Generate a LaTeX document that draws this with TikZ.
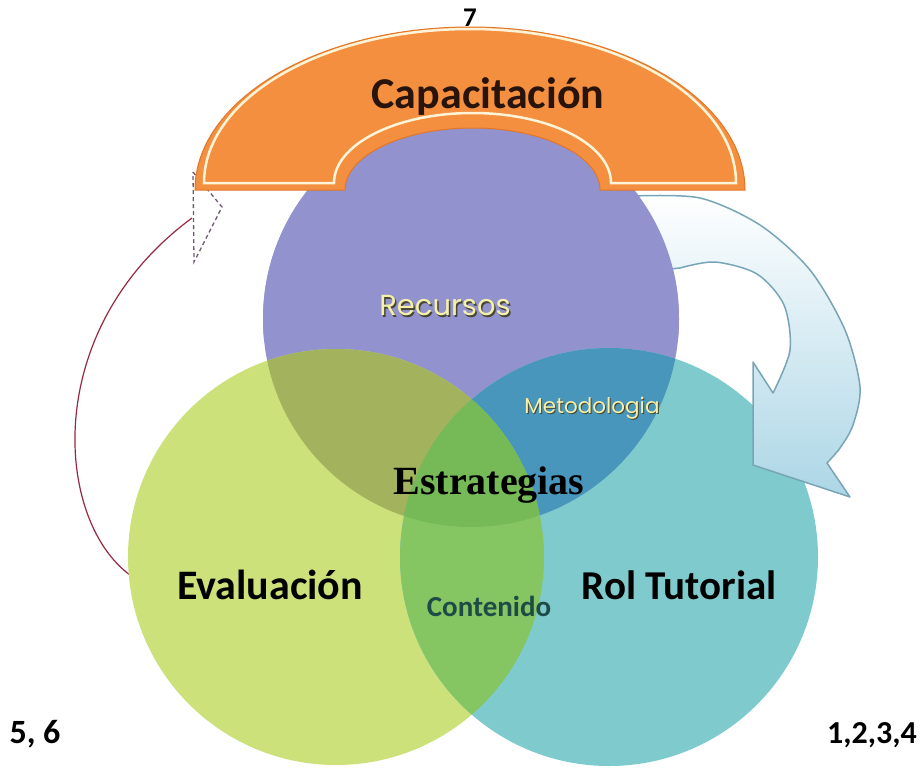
\documentclass[tikz,border=0pt]{standalone}
\usepackage{fontspec}
\setmainfont{Carlito}
\newfontfamily\serifb{Liberation Serif}
\newfontfamily\gothic{Poppins}
\definecolor{purpleC}{RGB}{146,146,206}
\definecolor{greenC}{RGB}{204,225,122}
\definecolor{tealC}{RGB}{126,202,205}
\definecolor{PGc}{RGB}{163,178,92}
\definecolor{PTc}{RGB}{72,150,188}
\definecolor{GTc}{RGB}{133,198,98}
\definecolor{PGTc}{RGB}{118,186,88}
\definecolor{orangeC}{RGB}{243,143,62}
\definecolor{orangeD}{RGB}{226,118,40}
\definecolor{creamC}{RGB}{255,244,215}
\definecolor{arrowB}{RGB}{172,214,230}
\definecolor{arrowE}{RGB}{120,165,182}
\definecolor{redC}{RGB}{150,40,65}
\definecolor{dashC}{RGB}{110,90,115}
\definecolor{yellowT}{RGB}{245,240,170}
\definecolor{shadowT}{RGB}{70,70,50}
\definecolor{contC}{RGB}{30,75,72}
\tikzset{
  lbl/.style={inner sep=0pt, font=\bfseries},
  glow/.style={inner sep=0pt, text=yellowT},
  glowsh/.style={inner sep=0pt, text=shadowT},
  num/.style={inner sep=0pt, font=\bfseries\fontsize{34}{36}\selectfont},
}
\begin{document}
\begin{tikzpicture}[x=1pt,y=-1pt]
\useasboundingbox (0,0) rectangle (921,769);
% left feedback arrow
\coordinate (ev) at (130,575);
\coordinate (dtop) at (193,172);
\coordinate (dright) at (222,207);
\coordinate (dbot) at (194,262);
\coordinate (dmid) at (192,218);
\draw[dashC, line width=1.3pt, dash pattern=on 4pt off 3pt] (dtop) -- (dright) -- (dbot) -- cycle;
\draw[redC, line width=1.2pt] (ev) .. controls (55,520) and (40,330) .. (dmid);
% circles
\coordinate (cP) at (471,319);
\coordinate (cG) at (336,557);
\coordinate (cT) at (609,557);
\fill[purpleC] (cP) circle[radius=208];
\fill[greenC] (cG) circle[radius=208];
\fill[tealC] (cT) circle[radius=209];
\begin{scope}
  \clip (cP) circle[radius=208];
  \fill[PGc] (cG) circle[radius=208];
  \fill[PTc] (cT) circle[radius=209];
\end{scope}
\begin{scope}
  \clip (cG) circle[radius=208];
  \fill[GTc] (cT) circle[radius=209];
  \clip (cP) circle[radius=208];
  \fill[PGTc] (cT) circle[radius=209];
\end{scope}
% right curved arrow
\shade[top color=white, bottom color=arrowB, draw=arrowE, line width=1.5pt, line join=round]
  plot[smooth] coordinates {(633,196) (700,198) (760,225) (810,270) (845,330) (860,387) (853,425) (840,448) (827,463)}
  -- (850,497) -- (753,465) -- (753,362)
  -- plot[smooth] coordinates {(773,393) (790,350) (784,305) (757,274) (715,262) (680,268)}
  -- (660,270) -- (620,210) -- cycle;
\begin{scope}
  \clip (0,0) rectangle (921,340);
  \fill[purpleC] (cP) circle[radius=208];
\end{scope}
% orange arch
\fill[orangeC, draw=orangeD, line width=1pt]
  (195,190) arc[start angle=180, end angle=360, x radius=275, y radius=163]
  -- (600,190) arc[start angle=0, end angle=-180, x radius=127.5, y radius=62]
  -- cycle;
\draw[creamC, line width=2.5pt]
  (204,183) arc[start angle=180, end angle=360, x radius=266, y radius=154]
  -- (611,183) arc[start angle=0, end angle=-180, x radius=138.5, y radius=70]
  -- cycle;
% texts
\node[lbl, text={rgb,255:red,40;green,20;blue,10}, font=\bfseries\fontsize{44}{46}\selectfont] (cap) at (488,97) {Capacitación};
\node[lbl, font=\bfseries\fontsize{27}{29}\selectfont] (n7) at (470,18) {7};
\node[glowsh, font=\gothic\fontsize{29}{31}\selectfont] (recs) at (446.5,307.5) {Recursos};
\node[glow, font=\gothic\fontsize{29}{31}\selectfont] (rec) at (445,306) {Recursos};
\node[glowsh, font=\gothic\fontsize{21.5}{23}\selectfont] (mets) at (593,409.5) {Metodologia};
\node[glow, font=\gothic\fontsize{21.5}{23}\selectfont] (met) at (592,408) {Metodologia};
\node[lbl, font=\serifb\bfseries\fontsize{40}{42}\selectfont] (est) at (489,485) {Estrategias};
\node[lbl, font=\bfseries\fontsize{42}{44}\selectfont] (eva) at (270,585) {Evaluación};
\node[lbl, font=\bfseries\fontsize{41}{43}\selectfont] (rol) at (679,585) {Rol Tutorial};
\node[lbl, text=contC, font=\bfseries\fontsize{29}{31}\selectfont] (con) at (489,606) {Contenido};
\node[num] (n56) at (35,734) {5, 6};
\node[num, font=\bfseries\fontsize{32}{34}\selectfont] (n1234) at (872,735) {1,2,3,4};
\end{tikzpicture}
\end{document}
